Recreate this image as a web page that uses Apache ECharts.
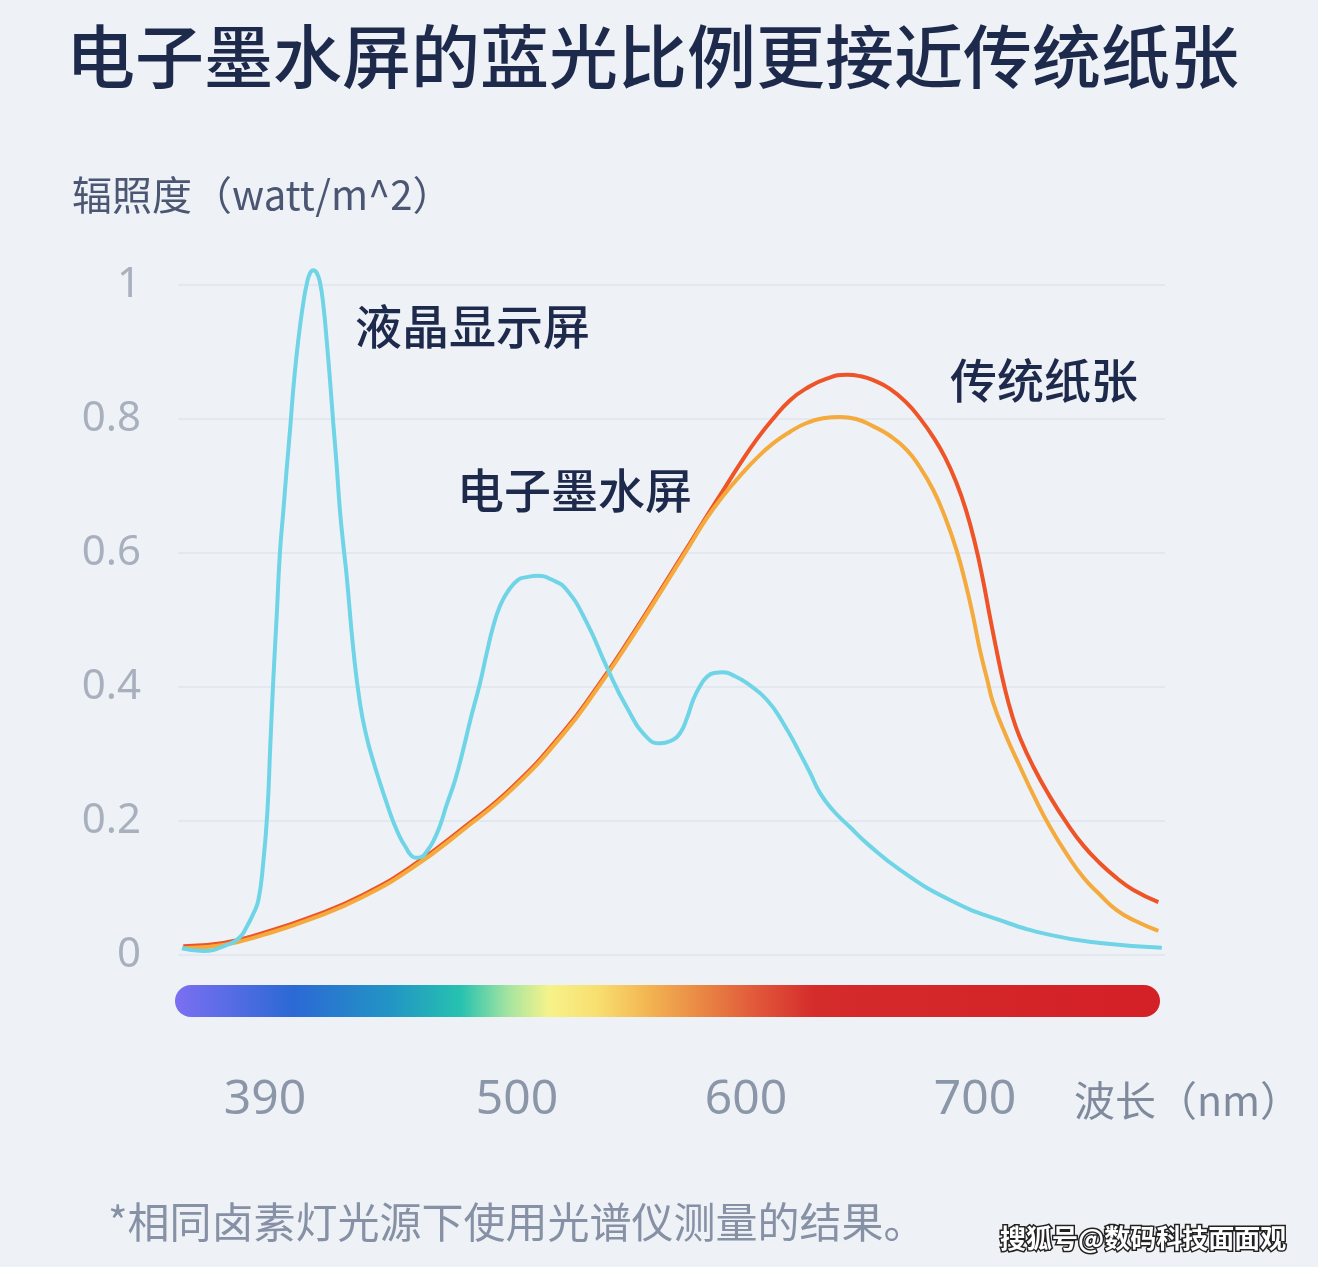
<!DOCTYPE html>
<html>
<head>
<meta charset="utf-8">
<script src="https://cdn.jsdelivr.net/npm/echarts@6/dist/echarts.min.js"></script>
<style>
html,body{margin:0;padding:0;background:#eef2f7;}
#c{width:1318px;height:1267px;}
</style>
</head>
<body>
<div id="c"></div>
<script>
// ---- texts ----
const titleText = '电子墨水屏的蓝光比例更接近传统纸张';
const yAxisName = '辐照度（watt/m^2）';
const xAxisName = '波长（nm）';
const footnote = '*相同卤素灯光源下使用光谱仪测量的结果。';
const watermark = '搜狐号@数码科技面面观';
const seriesNames = ['液晶显示屏', '电子墨水屏', '传统纸张'];

// ---- axes ----
const xTicks = [390, 500, 600, 700];
const xRange = [352, 783];
const yTicks = [0, 0.2, 0.4, 0.6, 0.8, 1];

// ---- LCD (cyan) ----
const lcdNm = [353.7, 362.9, 373.4, 379.1, 382.0, 384.8, 387.1, 389.2, 391.0, 392.3, 393.6, 395.1, 396.5, 398.0,
  399.5, 401.0, 402.3, 403.8, 405.3, 406.8, 408.2, 409.7, 411.1, 412.6, 414.0, 415.5, 416.9, 418.4, 419.8, 421.3,
  422.7, 424.2, 425.7, 428.6, 431.5, 434.4, 437.2, 440.2, 443.1, 446.0, 448.9, 451.6, 453.7, 455.9, 458.1, 460.7,
  463.5, 466.4, 469.3, 473.0, 476.5, 479.9, 483.9, 486.9, 489.6, 492.6, 496.1, 500.5, 504.4, 508.8, 515.3, 521.7,
  530.5, 539.2, 547.9, 556.7, 562.5, 566.8, 571.2, 574.3, 577.0, 579.9, 582.9, 586.1, 590.1, 595.2, 600.3, 609.1,
  616.3, 623.6, 628.0, 632.3, 638.0, 645.4, 652.7, 667.3, 689.1, 710.9, 732.8, 754.6, 781.6];
const lcdVal = [0.010, 0.006, 0.015, 0.027, 0.042, 0.061, 0.082, 0.137, 0.212, 0.312, 0.410, 0.506, 0.600, 0.663,
  0.727, 0.787, 0.843, 0.896, 0.939, 0.975, 1.001, 1.018, 1.022, 1.018, 1.004, 0.969, 0.918, 0.857, 0.794, 0.730,
  0.664, 0.612, 0.564, 0.455, 0.375, 0.325, 0.290, 0.257, 0.227, 0.199, 0.176, 0.160, 0.149, 0.145, 0.146, 0.155,
  0.170, 0.193, 0.224, 0.261, 0.306, 0.354, 0.406, 0.452, 0.490, 0.521, 0.543, 0.560, 0.564, 0.566, 0.560, 0.545,
  0.496, 0.430, 0.370, 0.325, 0.316, 0.319, 0.331, 0.354, 0.381, 0.401, 0.415, 0.421, 0.422, 0.416, 0.406, 0.381,
  0.346, 0.301, 0.272, 0.242, 0.216, 0.191, 0.167, 0.127, 0.082, 0.052, 0.030, 0.018, 0.011];

// ---- E-ink (orange) ----
const einkNm = [354.3, 371.8, 389.2, 411.1, 432.9, 454.7, 476.6, 498.4, 520.3, 534.8, 549.4, 563.9, 575.6, 582.9,
  590.0, 597.4, 604.8, 612.0, 619.3, 626.5, 633.7, 641.1, 648.1, 655.6, 662.9, 670.2, 676.0, 681.8, 686.9, 692.0,
  696.1, 699.3, 702.2, 705.3, 708.0, 713.6, 719.7, 726.2, 732.8, 739.8, 747.3, 754.6, 761.9, 769.9, 780.1];
const einkVal = [0.010, 0.015, 0.030, 0.055, 0.087, 0.131, 0.187, 0.249, 0.330, 0.396, 0.470, 0.548, 0.612, 0.652,
  0.685, 0.715, 0.742, 0.764, 0.781, 0.794, 0.801, 0.803, 0.800, 0.789, 0.775, 0.754, 0.728, 0.694, 0.654, 0.604,
  0.552, 0.504, 0.455, 0.412, 0.376, 0.327, 0.281, 0.234, 0.191, 0.152, 0.116, 0.090, 0.067, 0.051, 0.036];

// ---- Paper (red) ----
const paperNm = [354.3, 371.8, 389.2, 411.1, 432.9, 454.7, 476.6, 498.4, 520.3, 534.8, 549.4, 563.9, 575.6, 582.9,
  590.0, 597.4, 604.8, 612.0, 619.3, 626.5, 635.0, 644.0, 649.8, 655.6, 662.9, 670.2, 676.0, 681.8, 686.9, 692.0,
  696.1, 700.0, 703.5, 706.6, 709.6, 712.7, 716.2, 719.7, 725.5, 732.8, 740.1, 747.2, 754.6, 761.9, 769.2, 780.1];
const paperVal = [0.013, 0.018, 0.033, 0.058, 0.090, 0.134, 0.190, 0.252, 0.333, 0.399, 0.473, 0.551, 0.615, 0.655,
  0.693, 0.733, 0.770, 0.801, 0.828, 0.846, 0.860, 0.866, 0.864, 0.858, 0.845, 0.824, 0.801, 0.773, 0.743, 0.704,
  0.664, 0.615, 0.560, 0.504, 0.452, 0.403, 0.358, 0.324, 0.281, 0.236, 0.197, 0.164, 0.137, 0.115, 0.097, 0.079];

const zip = (a, b) => a.map((v, i) => [v, b[i]]);

const CJK = "'Noto Sans CJK SC', 'Noto Sans', sans-serif";
const NUM = "'Noto Sans', 'Noto Sans CJK SC', sans-serif";
const navy = '#1e2a4b';

const chart = echarts.init(document.getElementById('c'), null, {renderer: 'canvas'});
chart.setOption({
  backgroundColor: '#eef2f7',
  animation: false,
  title: {
    text: titleText,
    left: 66, top: 22, padding: 0,
    textStyle: {fontSize: 69, fontWeight: 500, color: navy, fontFamily: CJK}
  },
  grid: {left: 178, right: 153, top: 285, bottom: 312, containLabel: false},
  xAxis: {
    type: 'value',
    min: xRange[0], max: xRange[1],
    axisLine: {show: false}, axisTick: {show: false}, splitLine: {show: false},
    axisLabel: {
      customValues: xTicks,
      margin: 121,
      fontSize: 48, color: '#8b96a8', fontFamily: NUM
    }
  },
  yAxis: {
    type: 'value',
    min: yTicks[0], max: yTicks[yTicks.length - 1], interval: yTicks[1] - yTicks[0],
    axisLine: {show: false}, axisTick: {show: false},
    splitLine: {lineStyle: {color: '#e3e8ef', width: 2}},
    axisLabel: {margin: 37, fontSize: 42, color: '#a9b0bd', fontFamily: NUM}
  },
  series: [
    {name: seriesNames[2], type: 'line', data: zip(paperNm, paperVal), smooth: 0.5, showSymbol: false, clip: false,
      lineStyle: {color: '#ee5427', width: 4}, z: 2},
    {name: seriesNames[1], type: 'line', data: zip(einkNm, einkVal), smooth: 0.5, showSymbol: false, clip: false,
      lineStyle: {color: '#f4aa3c', width: 4}, z: 3},
    {name: seriesNames[0], type: 'line', data: zip(lcdNm, lcdVal), smooth: 0.5, showSymbol: false, clip: false,
      lineStyle: {color: '#6fd4e6', width: 4}, z: 4}
  ],
  graphic: [
    {type: 'text', x: 72, y: 195, style: {text: yAxisName, fontSize: 40, fill: '#4b5673', fontFamily: CJK, verticalAlign: 'middle'}},
    {type: 'text', x: 355, y: 326, style: {text: seriesNames[0], fontSize: 47, fontWeight: 500, fill: navy, fontFamily: CJK, verticalAlign: 'middle'}},
    {type: 'text', x: 457, y: 490, style: {text: seriesNames[1], fontSize: 47, fontWeight: 500, fill: navy, fontFamily: CJK, verticalAlign: 'middle'}},
    {type: 'text', x: 950, y: 380, style: {text: seriesNames[2], fontSize: 47, fontWeight: 500, fill: navy, fontFamily: CJK, verticalAlign: 'middle'}},
    {type: 'rect', shape: {x: 175, y: 985, width: 985, height: 32, r: 16},
      style: {fill: new echarts.graphic.LinearGradient(0, 0, 1, 0, [
        {offset: 0, color: '#7c6ff2'},
        {offset: 0.12, color: '#2b69d5'},
        {offset: 0.22, color: '#2295c4'},
        {offset: 0.29, color: '#26c2b0'},
        {offset: 0.34, color: '#a9e5a0'},
        {offset: 0.38, color: '#f6f38a'},
        {offset: 0.43, color: '#f8de6f'},
        {offset: 0.48, color: '#f3b552'},
        {offset: 0.53, color: '#ea8b45'},
        {offset: 0.59, color: '#e1583a'},
        {offset: 0.65, color: '#d42b2b'},
        {offset: 1, color: '#d42027'}
      ])}},
    {type: 'text', x: 1074, y: 1100, style: {text: xAxisName, fontSize: 41, fill: '#7f8a9c', fontFamily: CJK, verticalAlign: 'middle'}},
    {type: 'text', x: 108, y: 1222, style: {text: footnote, fontSize: 42, fill: '#8791a5', fontFamily: CJK, verticalAlign: 'middle'}},
    {type: 'text', x: 1000, y: 1238, style: {text: watermark, fontSize: 26, fontWeight: 'bold', fill: '#ffffff', stroke: '#222222', lineWidth: 3, fontFamily: CJK, verticalAlign: 'middle'}}
  ]
});
</script>
</body>
</html>
